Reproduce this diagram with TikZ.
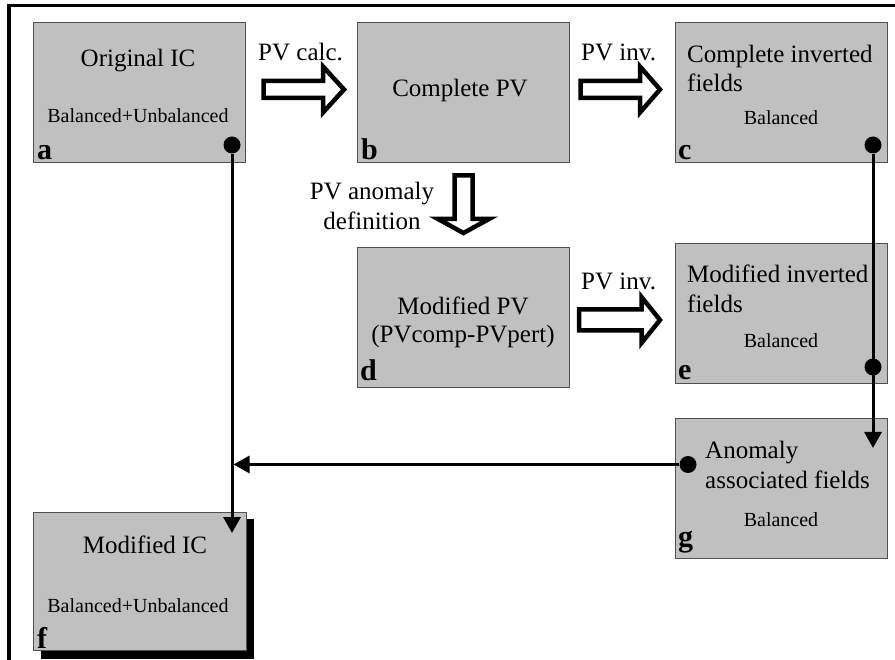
\documentclass[tikz,border=0pt]{standalone}
\usepackage{fontspec}
\setmainfont{Liberation Serif}
\usetikzlibrary{arrows.meta}
\definecolor{boxgray}{RGB}{192,192,192}
\definecolor{edgegray}{RGB}{80,80,80}
\begin{document}
\begin{tikzpicture}[x=1pt,y=-1pt,
  box/.style={draw=edgegray, line width=0.9pt, fill=boxgray, minimum width=212pt, minimum height=140pt, inner sep=0pt},
  big/.style={font=\fontsize{25}{30}\selectfont, inner sep=0pt},
  small/.style={font=\fontsize{20}{24}\selectfont, inner sep=0pt},
  lab/.style={font=\fontsize{30}{34}\selectfont\bfseries, inner sep=0pt, anchor=base west},
  conn/.style={line width=3pt, -{Triangle[length=16pt,width=17pt]}},
  dot/.style={circle, fill=black, minimum size=17pt, inner sep=0pt},
  blockarrow/.style={draw=black, line width=4.5pt, fill=white, line join=miter, miter limit=10},
  frame/.style={line width=3.8pt}
]
\useasboundingbox (0,0) rectangle (895,660);
% frame
\draw[frame] (9,662) -- (9,5.5) -- (897,5.5);

% boxes
\node[box] (a) at (139.5,92) {};
\node[box] (b) at (463.5,92) {};
\node[box] (c) at (781,92) {};
\node[box] (d) at (463,317) {};
\node[box] (e) at (781,313) {};
\node[box] (g) at (781,488.5) {};
\fill[black] (41,519) rectangle (254,659);
\node[box, minimum width=213pt, minimum height=138pt] (f) at (139.5,581) {};

% box a
\node[big, anchor=base] (ta) at (138,66.5) {Original IC};
\node[small, anchor=base] (sa) at (138,123) {Balanced+Unbalanced};
\node[lab] (la) at (37,159.5) {a};
% box b
\node[big, anchor=base] (tb) at (460,96.5) {Complete PV};
\node[lab] (lb) at (361,159.5) {b};
% box c
\node[big, anchor=base west] (tc1) at (687,63) {Complete inverted};
\node[big, anchor=base west] (tc2) at (687,91.5) {fields};
\node[small, anchor=base] (sc) at (781,125) {Balanced};
\node[lab] (lc) at (678,159.5) {c};
% box d
\node[big, anchor=base] (td1) at (463,315) {Modified PV};
\node[big, anchor=base] (td2) at (463,343) {(PVcomp-PVpert)};
\node[lab] (ld) at (360,381) {d};
% box e
\node[big, anchor=base west] (te1) at (687,283) {Modified inverted};
\node[big, anchor=base west] (te2) at (687,312.5) {fields};
\node[small, anchor=base] (se) at (781,348) {Balanced};
\node[lab] (le) at (678,380) {e};
% box g
\node[big, anchor=base west] (tg1) at (705,459) {Anomaly};
\node[big, anchor=base west] (tg2) at (705,488) {associated fields};
\node[small, anchor=base] (sg) at (781,526) {Balanced};
\node[lab] (lg) at (678,546) {g};
% box f
\node[big, anchor=base] (tf) at (145,553) {Modified IC};
\node[small, anchor=base] (sf) at (138,612) {Balanced+Unbalanced};
\node[lab] (lf) at (37,648) {f};

% arrow labels
\node[big, anchor=base west] (l1) at (258,60.5) {PV calc.};
\node[big, anchor=base west] (l2) at (581,61) {PV inv.};
\node[big, anchor=base west] (l3) at (581,290) {PV inv.};
\node[big, anchor=base] (l4a) at (372,200) {PV anomaly};
\node[big, anchor=base] (l4b) at (372,229.5) {definition};

% block arrows
\draw[blockarrow] (263.5,81) -- (323,81) -- (323,66.5) -- (344,89.5) -- (323,112.5) -- (323,98) -- (263.5,98) -- cycle;
\draw[blockarrow] (580.5,81) -- (640,81) -- (640,66.5) -- (660,89.5) -- (640,112.5) -- (640,98) -- (580.5,98) -- cycle;
\draw[blockarrow] (579,309.5) -- (641.5,309.5) -- (641.5,297) -- (660,320) -- (641.5,343) -- (641.5,330.5) -- (579,330.5) -- cycle;
\draw[blockarrow] (454.5,175.5) -- (472.5,175.5) -- (472.5,219) -- (489,219) -- (463.5,233) -- (438,219) -- (454.5,219) -- cycle;

% connectors
\node[dot] (adot) at (232,145) {};
\node[dot] (cdot) at (873,145) {};
\node[dot] (edot) at (873,367) {};
\node[dot] (gdot) at (688,464.5) {};
\coordinate (ftip) at (232,533);
\coordinate (gtip) at (873,448);
\coordinate (jtip) at (233.5,464.5);
\draw[conn] (adot) -- (ftip);
\draw[conn] (cdot) -- (gtip);
\draw[conn] (gdot) -- (jtip);
\end{tikzpicture}
\end{document}
